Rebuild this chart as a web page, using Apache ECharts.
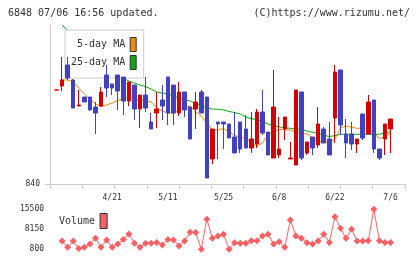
<!DOCTYPE html>
<html>
<head>
<meta charset="utf-8">
<script src="https://cdn.jsdelivr.net/npm/echarts@6.0.0/dist/echarts.min.js"></script>
<style>
  html, body { margin: 0; padding: 0; background: #fff; }
  #chart { width: 420px; height: 259px; }
</style>
</head>
<body>
<div id="chart"></div>
<script>
// trading days 2020/4/7 .. 7/6
const dates = [
  '4/7', '4/8', '4/9', '4/10', '4/13', '4/14', '4/15', '4/16', '4/17', '4/20',
  '4/21', '4/22', '4/23', '4/24', '4/27', '4/28', '4/30', '5/1', '5/7', '5/8',
  '5/11', '5/12', '5/13', '5/14', '5/15', '5/18', '5/19', '5/20', '5/21', '5/22',
  '5/25', '5/26', '5/27', '5/28', '5/29', '6/1', '6/2', '6/3', '6/4', '6/5',
  '6/8', '6/9', '6/10', '6/11', '6/12', '6/15', '6/16', '6/17', '6/18', '6/19',
  '6/22', '6/23', '6/24', '6/25', '6/26', '6/29', '6/30', '7/1', '7/2', '7/3',
  '7/6'
]

const opens = [
  934, 938, 959, 944, 918, 927, 927, 917, 918, 949,
  940, 949, 947, 923, 939, 915, 929, 902, 911, 924,
  947, 939, 911, 932, 917, 915, 932, 927, 865, 902,
  902, 900, 887, 902, 895, 876, 880, 912, 892, 866,
  869, 895, 865, 859, 932, 871, 887, 879, 895, 885,
  906, 954, 890, 890, 880, 910, 890, 924, 875, 885,
  895
]
const closes = [
  934, 944, 946, 916, 919, 922, 914, 911, 932, 936,
  936, 933, 923, 942, 915, 929, 916, 895, 915, 918,
  911, 911, 932, 914, 885, 922, 911, 846, 895, 900,
  900, 886, 871, 875, 876, 885, 912, 891, 869, 917,
  875, 907, 866, 934, 866, 882, 876, 900, 881, 869,
  952, 899, 881, 880, 885, 886, 922, 875, 866, 900,
  905
]
const lows = [
  934, 933, 944, 916, 918, 922, 914, 890, 917, 927,
  929, 914, 909, 918, 904, 896, 912, 895, 896, 904,
  899, 899, 908, 907, 885, 895, 911, 846, 860, 865,
  875, 886, 871, 871, 876, 871, 876, 889, 869, 866,
  866, 884, 865, 859, 864, 869, 869, 876, 881, 869,
  881, 889, 866, 874, 871, 884, 890, 871, 864, 869,
  871
]
const highs = [
  935, 967, 967, 945, 934, 927, 927, 922, 937, 959,
  940, 949, 947, 942, 939, 929, 947, 911, 932, 939,
  947, 939, 942, 932, 917, 932, 934, 927, 895, 902,
  902, 900, 912, 902, 909, 912, 915, 934, 892, 954,
  907, 907, 882, 934, 932, 882, 887, 917, 897, 902,
  959, 954, 905, 902, 885, 910, 929, 924, 875, 900,
  905
]

const ma5 = [
  null, 944, 944, 942, 936, 930, 925, 920, 917.5, 919,
  921, 923.5, 925.5, 926.5, 925, 924, 923.5, 922, 916.5, 913,
  911, 911, 914, 916, 918, 912, 908, 901, 894, 894,
  895.5, 892, 888.5, 887, 885.5, 881, 878, 881, 889, 893.5,
  894.5, 894.5, 894, 891.5, 890.5, 890, 886, 883, 881.5, 882,
  885, 896, 898, 897, 895.5, 896.5, 895.5, 891, 885.5, 887.5,
  891
]
const ma25 = [
  null, 998.5, 994, 989, 985, 981, 976, 971, 966, 961,
  956, 951, 945.5, 943, 941, 939, 937.3, 935, 932, 931,
  930, 928, 926, 924.5, 923, 920.5, 918, 916.5, 915, 914.7,
  914, 912.5, 911.5, 910, 907, 905.2, 904.5, 902.5, 900, 898.5,
  897, 896.3, 895.7, 895, 894.5, 893, 891.7, 890.5, 888.7, 887.5,
  888.3, 889.7, 889.7, 889.7, 889.7, 889.7, 889.7, 889.7, 889.7, 891,
  892.3
]
const volume = [
  null, 3800, 1500, 3800, 1100, 1500, 2700, 4800, 1500, 4200,
  1500, 2700, 4400, 6400, 3000, 1500, 3000, 3000, 3300, 2300,
  4400, 4200, 2000, 3800, 7000, 6900, 800, 11800, 4800, 5650,
  6300, 800, 3200, 3000, 3000, 3900, 3900, 5650, 6300, 2700,
  3550, 1500, 11500, 5650, 4800, 3200, 2700, 3800, 6300, 3300,
  12700, 8500, 4800, 8100, 3800, 3800, 3900, 15500, 3900, 3300,
  3300
]

const priceTicks = [840]
const volumeTicks = [800, 8150, 15500]

const RED = '#d40000'
const BLUE = '#4242c0'
const ORANGE = '#f08a10'
const GREEN = '#10a810'
const VOL = '#ff5f62'
const AXIS = '#cccccc'
const TEXT = '#333333'
const FONT = 'DejaVu Sans Mono'

const candleData = opens.map((o, i) => [o, closes[i], lows[i], highs[i]])

const chart = echarts.init(document.getElementById('chart'), null, { renderer: 'canvas' })

chart.setOption({
  animation: false,
  backgroundColor: '#fff',
  title: [
    {
      text: '6848 07/06 16:56 updated.', left: 8, top: 8, padding: 0,
      textStyle: { fontFamily: FONT, fontSize: 10, fontWeight: 'normal', color: TEXT }
    },
    {
      text: '(C)https://www.rizumu.net/', right: 10, top: 8, padding: 0,
      textStyle: { fontFamily: FONT, fontSize: 10, fontWeight: 'normal', color: TEXT }
    }
  ],
  legend: [
    {
      data: ['5-day MA', '25-day MA'],
      orient: 'vertical', align: 'right',
      left: 65, top: 30,
      padding: [7, 7, 8, 6],
      itemWidth: 6, itemHeight: 14, itemGap: 3,
      icon: 'rect',
      itemStyle: { borderColor: '#333', borderWidth: 1 },
      backgroundColor: '#fff', borderColor: AXIS, borderWidth: 1,
      selectedMode: false,
      textStyle: { fontFamily: FONT, fontSize: 10, color: TEXT }
    },
    {
      data: ['Volume'],
      orient: 'vertical', align: 'right',
      left: 59, top: 213, padding: 0,
      itemWidth: 7, itemHeight: 15,
      icon: 'rect',
      itemStyle: { borderColor: '#333', borderWidth: 1 },
      selectedMode: false,
      textStyle: { fontFamily: FONT, fontSize: 10, color: TEXT }
    }
  ],
  grid: [
    { left: 53.72, top: 25, width: 339.6, height: 159, outerBoundsMode: 'none' },
    { left: 50, top: 25, width: 355, height: 159, outerBoundsMode: 'none' },
    { left: 53.72, top: 209.2, width: 339.6, height: 40, outerBoundsMode: 'none' }
  ],
  xAxis: [
    {
      type: 'category', gridIndex: 0, data: dates, boundaryGap: true,
      axisLine: { show: false }, axisTick: { show: false }, splitLine: { show: false },
      axisLabel: {
        interval: (i) => i > 0 && i % 10 === 0,
        margin: 10, fontFamily: FONT, fontSize: 8, color: TEXT
      }
    },
    {
      type: 'value', gridIndex: 1, min: 0, max: 11, interval: 1,
      axisLine: { show: true, onZero: false, lineStyle: { color: AXIS } },
      axisTick: { show: true, length: 5, lineStyle: { color: AXIS } },
      axisLabel: { show: false }, splitLine: { show: false }
    },
    {
      type: 'category', gridIndex: 2, data: dates, show: false
    }
  ],
  yAxis: [
    { type: 'value', gridIndex: 0, min: 840, max: 999, show: false },
    {
      type: 'value', gridIndex: 1, min: 840, max: 999,
      axisLine: { show: true, onZero: false, lineStyle: { color: AXIS } },
      axisTick: { show: true, length: 5, customValues: priceTicks, lineStyle: { color: AXIS } },
      axisLabel: {
        customValues: priceTicks, margin: 10, formatter: (v) => String(v),
        fontFamily: FONT, fontSize: 8, color: TEXT
      },
      splitLine: { show: false }
    },
    {
      type: 'value', gridIndex: 2, min: 800, max: 15500,
      axisLine: { show: false }, axisTick: { show: false }, splitLine: { show: false },
      axisLabel: {
        customValues: volumeTicks, margin: 9.7, formatter: (v) => String(v),
        fontFamily: FONT, fontSize: 8, color: TEXT
      }
    }
  ],
  series: [
    {
      name: 'price', type: 'candlestick', xAxisIndex: 0, yAxisIndex: 0,
      data: candleData, barWidth: 4, z: 5,
      itemStyle: { color: RED, color0: BLUE, borderColor: RED, borderColor0: BLUE, borderWidth: 1 }
    },
    {
      name: '5-day MA', type: 'line', xAxisIndex: 0, yAxisIndex: 0,
      data: ma5, symbol: 'none', z: 2,
      lineStyle: { color: ORANGE, width: 1 }, itemStyle: { color: ORANGE }
    },
    {
      name: '25-day MA', type: 'line', xAxisIndex: 0, yAxisIndex: 0,
      data: ma25, symbol: 'none', z: 2,
      lineStyle: { color: GREEN, width: 1 }, itemStyle: { color: GREEN }
    },
    {
      name: 'Volume', type: 'line', xAxisIndex: 2, yAxisIndex: 2,
      data: volume, symbol: 'diamond', symbolSize: 7, showAllSymbol: true, clip: false,
      lineStyle: { color: VOL, width: 1 }, itemStyle: { color: VOL }
    }
  ]
})
</script>
</body>
</html>
